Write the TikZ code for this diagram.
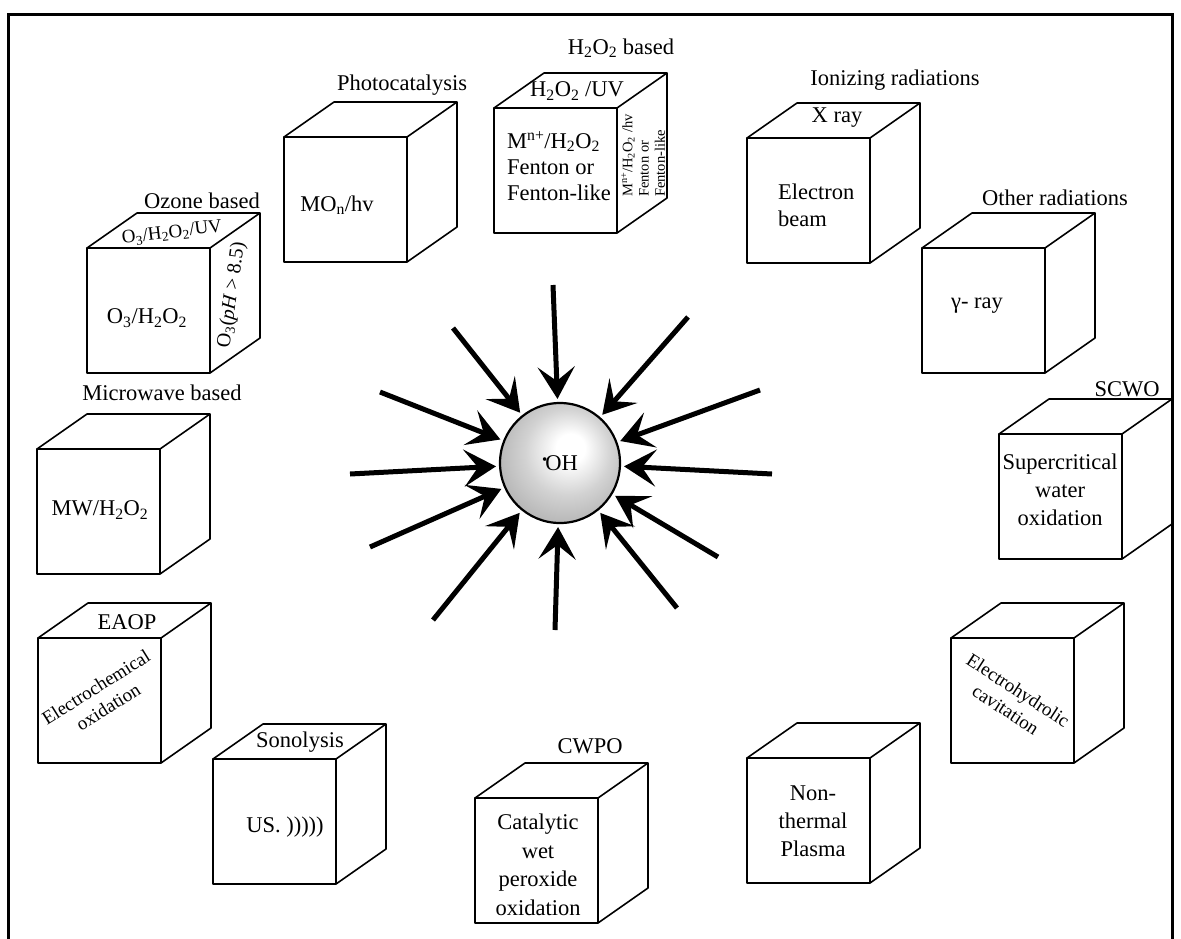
\documentclass[tikz,border=0pt]{standalone}
\usepackage{fontspec}
\setmainfont{Liberation Serif}
\usetikzlibrary{arrows.meta}
\newcommand\sbs[1]{\textsubscript{#1}}
\newcommand\sps[1]{\textsuperscript{#1}}
% box in oblique view: front face top-left corner at (#1,#2)
\newcommand\drawcube[2]{%
  \begin{scope}[shift={(#1,#2)}]
    \draw[edge] (0,0) rectangle (123,125);
    \draw[edge] (0,0) -- (50,-35) -- (173,-35) -- (123,0);
    \draw[edge] (173,-35) -- (173,90) -- (123,125);
  \end{scope}}
% soft grey sphere, light centre slightly up and to the right
\pgfdeclareradialshading{sphere}{\pgfpoint{5bp}{7bp}}{%
  color(0bp)=(white); color(6bp)=(white); color(18bp)=(gray!35);
  color(30bp)=(gray!60); color(42bp)=(gray!75); color(50bp)=(gray!90)}
\begin{document}
\begin{tikzpicture}[x=1pt,y=-1pt,
  txt/.style={font=\fontsize{22.5}{27}\selectfont, inner sep=0pt},
  small/.style={font=\fontsize{14.5}{16}\selectfont, inner sep=0pt},
  edge/.style={line width=1.6pt, line join=round},
  ray/.style={line width=5pt, -{Stealth[length=32pt,width=37pt,inset=14pt]}, shorten >=3pt},
  ]
\useasboundingbox (0,0) rectangle (1181,938);
\draw[line width=3pt] (8,945) -- (8,14) -- (1172,14) -- (1172,945);

% boxes
\drawcube{87}{248}   % ozone
\drawcube{284}{137}  % photocatalysis
\drawcube{494}{108}  % H2O2
\drawcube{747}{138}  % ionizing
\drawcube{922}{248}  % other radiations
\drawcube{999}{434}  % SCWO
\drawcube{951}{638}  % electrohydrolic
\drawcube{747}{758}  % plasma
\drawcube{475}{798}  % CWPO
\drawcube{213}{759}  % sonolysis
\drawcube{38}{638}   % EAOP
\drawcube{37}{449}   % microwave

% ozone based
\node[txt] (ozl) at (202,201) {Ozone based};
\node[txt, rotate=7, font=\fontsize{19}{22}\selectfont] (ozt) at (172,233) {O\sbs{3}/H\sbs{2}O\sbs{2}/UV};
\node[txt] (ozf) at (147,318) {O\sbs{3}/H\sbs{2}O\sbs{2}};
\node[txt, rotate=82, font=\fontsize{20}{24}\selectfont] (ozs) at (232,295) {O\sbs{3}(\textit{pH} > 8.5)};

% photocatalysis
\node[txt] (pcl) at (402,85) {Photocatalysis};
\node[txt] (pcf) at (337,205) {MO\sbs{n}/hv};

% H2O2 based
\node[txt] (hpl) at (621,48) {H\sbs{2}O\sbs{2} based};
\node[txt] (hpt) at (577,91) {H\sbs{2}O\sbs{2} /UV};
\node[txt, font=\fontsize{22.5}{26}\selectfont, align=left, anchor=west] (hpf) at (507,166) {M\sps{n+}/H\sbs{2}O\sbs{2}\\Fenton or\\Fenton-like};
\node[small, rotate=90, anchor=west] (hps1) at (628,197) {M\sps{n+}/H\sbs{2}O\sbs{2} /hv};
\node[small, rotate=90, anchor=west] (hps2) at (644,197) {Fenton or};
\node[small, rotate=90, anchor=west] (hps3) at (660,197) {Fenton-like};

% ionizing radiations
\node[txt] (irl) at (895,80) {Ionizing radiations};
\node[txt] (irt) at (837,118) {X ray};
\node[txt, align=left, anchor=west] (irf) at (778,205) {Electron\\beam};

% other radiations
\node[txt] (orl) at (1055,198) {Other radiations};
\node[txt] (orf) at (977,306) {γ- ray};

% SCWO
\node[txt] (scl) at (1127,389) {SCWO};
\node[txt, font=\fontsize{22.5}{28}\selectfont, align=center] (scf) at (1060,490) {Supercritical\\water\\oxidation};

% electrohydrolic cavitation
\node[txt, align=center, rotate=-33, font=\fontsize{19}{23}\selectfont] (ehf) at (1012,700) {Electrohydrolic\\cavitation};

% non-thermal plasma
\node[txt, font=\fontsize{22.5}{28}\selectfont, align=center] (npf) at (813,821) {Non-\\thermal\\Plasma};

% CWPO
\node[txt] (cwl) at (590,746) {CWPO};
\node[txt, font=\fontsize{22.5}{28.5}\selectfont, align=center] (cwf) at (538,865) {Catalytic\\wet\\peroxide\\oxidation};

% sonolysis
\node[txt] (sol) at (300,742) {Sonolysis};
\node[txt] (sof) at (285,827) {US. )))))};

% EAOP
\node[txt] (eal) at (127,622) {EAOP};
\node[txt, align=center, rotate=32, font=\fontsize{19}{23}\selectfont] (eaf) at (102,697) {Electrochemical\\oxidation};

% microwave based
\node[txt] (mwl) at (162,393) {Microwave based};
\node[txt] (mwf) at (100,510) {MW/H\sbs{2}O\sbs{2}};

% hydroxyl radical sphere
\node[circle, minimum size=120pt, draw, line width=2.2pt, shading=sphere, txt] (oh) at (560,463)
  {\raisebox{.55ex}{\fontsize{15}{15}\selectfont •}\kern-2ptOH};

% converging arrows
\coordinate (t1) at (553,285);
\coordinate (t2) at (453,328);
\coordinate (t3) at (380,392);
\coordinate (t4) at (350,474);
\coordinate (t5) at (370,547);
\coordinate (t6) at (433,620);
\coordinate (t7) at (555,630);
\coordinate (t8) at (677,608);
\coordinate (t9) at (718,557);
\coordinate (t10) at (772,474);
\coordinate (t11) at (760,390);
\coordinate (t12) at (688,317);
\foreach \k in {1,...,12} \draw[ray] (t\k) -- (oh);
\end{tikzpicture}
\end{document}
